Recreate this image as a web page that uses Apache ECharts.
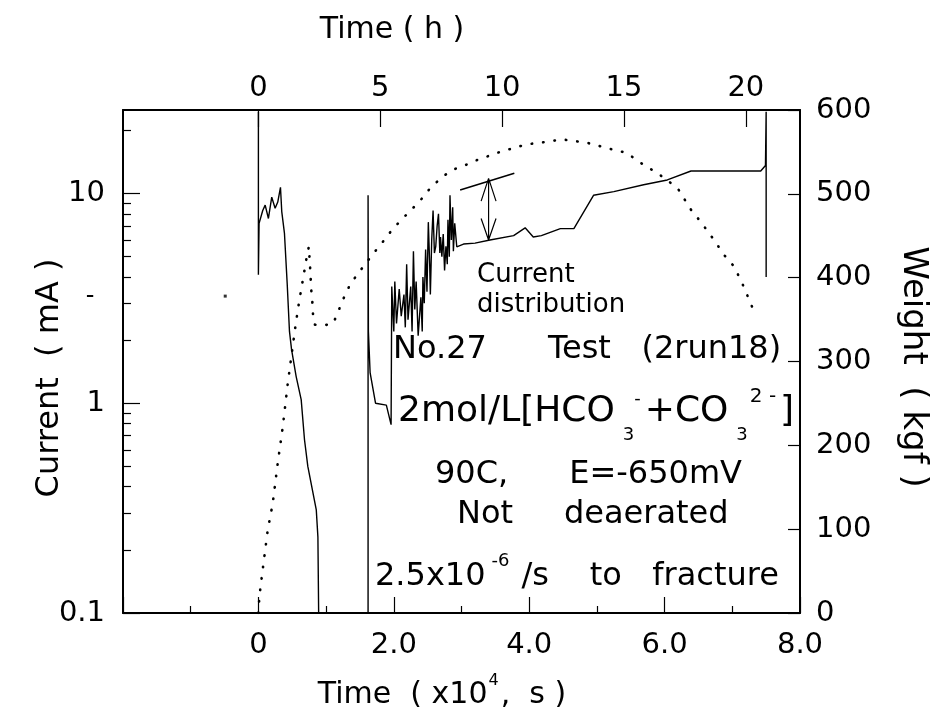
<!DOCTYPE html>
<html><head><meta charset="utf-8">
<script src="https://cdn.jsdelivr.net/npm/echarts@6/dist/echarts.min.js"></script>
<style>html,body{margin:0;padding:0;background:#fff}#c{width:950px;height:725px}</style>
</head><body><div id="c"></div>
<script>
// ---- axis definitions ----
const timeMin = -2, timeMax = 8;              // x10^4 s
const hourTickLabels = [0, 5, 10, 15, 20];      // top axis (h)
const hourToUnit = 0.36;                        // 1 h = 0.36 x10^4 s
const currentLabelTicks = [0.1, 1, 10];         // mA (log)
const currentMinorTicks = [0.2,0.3,0.4,0.5,0.6,0.7,0.8,0.9,2,3,4,5,6,7,8,9,20];
const currentMin = 0.1, currentMax = 25;
const weightMin = 0, weightMax = 600, weightStep = 100;

// ---- data: current (mA) vs time (x10^4 s) ----
const currentTime = [0,0,0.01,0.064,0.1,0.148,0.197,0.247,0.286,0.326,0.345,0.385,0.425,0.459,0.49,0.558,0.632,0.681,0.73,0.855,0.879,0.89,
  1.0,
  1.62,1.62,1.625,1.65,1.73,1.89,1.96,1.97,2.0,2.015,2.04,2.08,2.11,2.15,2.17,2.19,2.21,2.25,2.27,2.29,2.31,2.33,2.36,2.40,2.42,2.43,2.45,2.47,2.49,2.51,2.53,2.54,2.56,2.58,2.60,2.62,2.64,2.66,2.68,2.69,2.71,2.73,2.75,2.77,2.79,2.80,2.82,2.83,2.85,2.87,2.88,2.90,2.93,
  3.03,3.2,3.42,3.77,3.94,4.06,4.18,4.46,4.66,4.95,5.25,5.69,6.04,6.39,7.42,7.49,7.5,7.5];
const currentMA = [24.5,4.1,7.2,8.3,8.8,7.6,9.6,8.5,9.1,10.7,8.2,6.45,3.73,2.2,1.8,1.34,1.04,0.67,0.50,0.31,0.23,0.1,
  '-',
  0.1,9.8,2.2,1.4,1.0,0.98,0.79,3.6,2.2,3.8,2.4,3.5,2.6,3.3,2.3,4.6,2.5,3.6,2.2,5.3,2.8,3.8,2.1,3.2,2.2,4.0,3.0,5.4,3.4,7.3,4.6,3.3,6.0,8.3,5.2,5.6,7.0,8.0,5.2,6.2,5.0,6.4,4.3,5.6,4.6,7.5,5.0,9.8,6.0,8.6,5.3,7.2,5.57,
  5.74,5.8,6.0,6.3,6.86,6.2,6.3,6.8,6.8,9.8,10.2,11.0,11.6,12.8,12.8,13.6,24.5,4.0];

// ---- data: weight (kgf) vs time (x10^4 s) ----
const weightTime = [0,0.015,0.064,0.138,0.212,0.286,0.36,0.434,0.533,0.583,0.607,0.656,0.681,0.706,0.745,0.766,0.781,0.795,0.804,0.83,0.953,1.1,1.175,1.225,1.3,1.348,1.471,1.71,1.84,1.965,2.11,2.26,2.41,2.55,2.73,2.88,3.05,3.22,3.57,3.96,4.26,4.48,4.85,5.27,5.44,5.59,5.74,5.89,6.19,6.39,6.53,6.73,6.88,7.03,7.17,7.35];
const weightKgf = [0,20,52,99,131,179,222,274,334,362,374,397,409,421,437,409,385,374,358,344,343,345,358,370,382,391,405,430,443,456,469,481,494,508,521,529,534,540,550,559,562,565,561,552,549,540,532,525,507,481,467,445,427,413,389,354];
const strayTime = [-0.49], strayWeight = [378];

// ---- "Current distribution" annotation (mA) ----
const distLineTime = [2.98, 3.78], distLineMA = [10.4, 12.5];
const arrowTime = [3.40, 3.40, '-', 3.29, 3.40, 3.51, '-', 3.29, 3.40, 3.51];
const arrowMA   = [11.8, 6.0, '-', 9.2, 11.8, 9.2, '-', 7.6, 6.0, 7.6];

const zip = (a, b) => a.map((v, i) => [v, b[i]]);
const FONT = '"DejaVu Sans", Verdana, sans-serif';

const chart = echarts.init(document.getElementById('c'), null, {renderer: 'canvas'});
const blackLine = {color: '#000', width: 2};
const txt = (x, y, text, size, extra) => ({type: 'text', x, y, style: Object.assign(
  {text, font: size + 'px ' + FONT, fill: '#000', align: 'left', verticalAlign: 'middle'}, extra || {})});

chart.setOption({
  animation: false,
  backgroundColor: '#fff',
  grid: {left: 123, top: 110, width: 677, height: 503, show: false},
  xAxis: [
    {type: 'value', position: 'bottom', min: timeMin, max: timeMax, interval: 2,
     axisLine: {show: true, onZero: false, lineStyle: blackLine},
     axisTick: {show: true, inside: true, length: 16, lineStyle: {color: '#000', width: 1.2}},
     minorTick: {show: true, splitNumber: 2, length: 7, lineStyle: {color: '#000', width: 1.2}},
     splitLine: {show: false},
     axisLabel: {margin: 18, color: '#000', fontFamily: FONT, fontSize: 29,
       formatter: v => v < 0 ? '' : (v === 0 ? '0' : v.toFixed(1))}},
    {type: 'value', position: 'top', min: timeMin, max: timeMax,
     axisLine: {show: true, onZero: false, lineStyle: blackLine},
     axisTick: {show: true, inside: true, length: 17, lineStyle: {color: '#000', width: 1.2},
       customValues: hourTickLabels.map(h => h * hourToUnit)},
     splitLine: {show: false},
     axisLabel: {margin: 7, color: '#000', fontFamily: FONT, fontSize: 29,
       customValues: hourTickLabels.map(h => h * hourToUnit),
       formatter: v => String(Math.round(v / hourToUnit))}}
  ],
  yAxis: [
    {type: 'log', logBase: 10, position: 'left', min: currentMin, max: currentMax,
     axisLine: {show: true, onZero: false, lineStyle: blackLine},
     axisTick: {show: true, inside: true, length: 17, lineStyle: {color: '#000', width: 1.2},
       customValues: currentLabelTicks},
     splitLine: {show: false},
     axisLabel: {margin: 18, color: '#000', fontFamily: FONT, fontSize: 29,
       customValues: currentLabelTicks,
       formatter: v => (Math.abs(v - 0.1) < 1e-9 ? '0.1' : String(Math.round(v)))}},
    {type: 'value', position: 'right', min: weightMin, max: weightMax, interval: weightStep,
     axisLine: {show: true, onZero: false, lineStyle: blackLine},
     axisTick: {show: true, inside: true, length: 12, lineStyle: {color: '#000', width: 1.2}},
     splitLine: {show: false},
     axisLabel: {margin: 16, color: '#000', fontFamily: FONT, fontSize: 29}},
    {type: 'log', logBase: 10, position: 'left', min: currentMin, max: currentMax,
     axisLine: {show: false, onZero: false}, axisLabel: {show: false}, splitLine: {show: false},
     axisTick: {show: true, inside: true, length: 8, lineStyle: {color: '#000', width: 1.2},
       customValues: currentMinorTicks}}
  ],
  series: [
    {name: 'Current', type: 'line', xAxisIndex: 0, yAxisIndex: 0, data: zip(currentTime, currentMA),
     showSymbol: false, symbol: 'none', connectNulls: false,
     lineStyle: {color: '#000', width: 1.4}},
    {name: 'Weight', type: 'line', xAxisIndex: 0, yAxisIndex: 1, data: zip(weightTime, weightKgf),
     showSymbol: false, symbol: 'none',
     lineStyle: {color: '#000', width: 2.6, type: [0.5, 11], cap: 'round'}},
    {name: 'stray', type: 'scatter', xAxisIndex: 0, yAxisIndex: 1, data: zip(strayTime, strayWeight),
     symbol: 'rect', symbolSize: 3, itemStyle: {color: '#000'}},
    {name: 'dist', type: 'line', xAxisIndex: 0, yAxisIndex: 0, data: zip(distLineTime, distLineMA),
     showSymbol: false, symbol: 'none', lineStyle: {color: '#000', width: 1.6}},
    {name: 'arrow', type: 'line', xAxisIndex: 0, yAxisIndex: 0, data: zip(arrowTime, arrowMA),
     showSymbol: false, symbol: 'none', connectNulls: false, lineStyle: {color: '#000', width: 1.2}}
  ],
  graphic: [
    txt(392, 30, 'Time ( h )', 30, {align: 'center'}),
    txt(442, 695, 'Time  ( x10{p|4},  s )', 30, {align: 'center',
      rich: {p: {fontSize: 16, fontFamily: FONT, padding: [0, 2, 28, 1]}}}),
    Object.assign(txt(50, 378, 'Current  ( mA )', 32, {align: 'center'}), {rotation: Math.PI / 2}),
    Object.assign(txt(913, 367, 'Weight  ( kgf )', 34, {align: 'center'}), {rotation: -Math.PI / 2}),
    txt(90, 297, '-', 24, {align: 'center'}),
    txt(477, 275, 'Current', 26),
    txt(477, 305, 'distribution', 26),
    txt(393, 350, 'No.27      Test   (2run18)', 32),
    txt(398, 412, '2mol/L[HCO{s|3}{p|-}+CO{s|3}{q|2 -}]', 36, {
      rich: {s: {fontSize: 18, fontFamily: FONT, padding: [46, 0, 0, 8]},
             p: {fontSize: 18, fontFamily: FONT, padding: [0, 4, 26, 0]},
             q: {fontSize: 20, fontFamily: FONT, padding: [0, 4, 30, 2]}}}),
    txt(435, 475, '90C,      E=-650mV', 32),
    txt(457, 515, 'Not     deaerated', 32),
    txt(375, 577, '2.5x10{p|-6}/s    to   fracture', 32, {
      rich: {p: {fontSize: 18, fontFamily: FONT, padding: [0, 12, 32, 6]}}})
  ]
});
</script>
</body></html>
